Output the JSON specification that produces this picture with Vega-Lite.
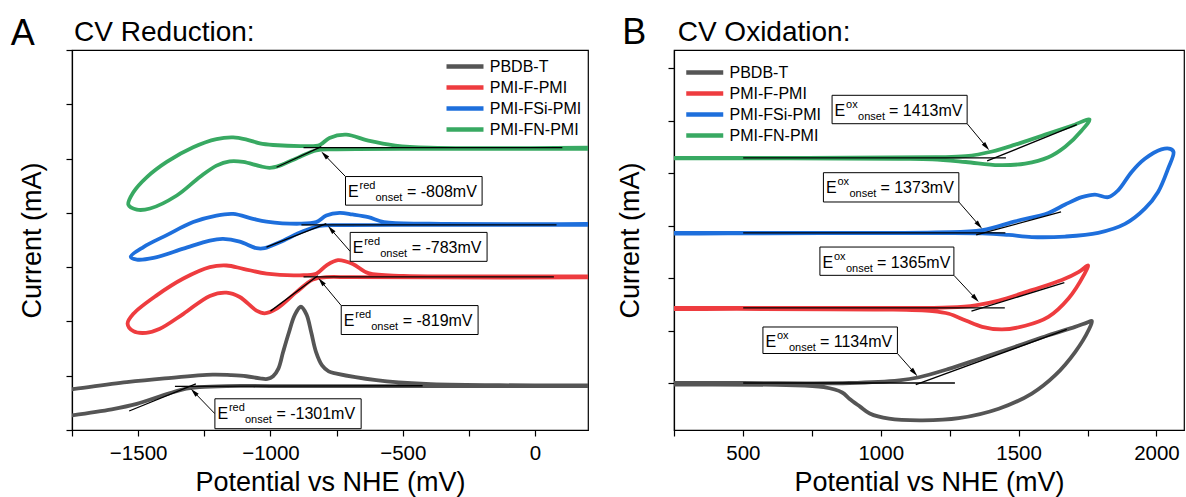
{
"$schema": "https://vega.github.io/schema/vega-lite/v6.json",
"background": "white",
"padding": {"left": 10, "top": 14, "right": 0, "bottom": 0},
"spacing": 86,
"bounds": "flush",
"resolve": {"scale": {"color": "independent"}, "legend": {"color": "independent"}},
"config": {
 "font": "Liberation Sans",
 "view": {"stroke": "black", "strokeWidth": 1.2},
 "axis": {"grid": false, "domainColor": "black", "domainWidth": 1.2, "tickColor": "black", "tickWidth": 1.2, "tickSize": 6, "labelFont": "Liberation Sans", "labelFontSize": 20.5, "labelColor": "black", "labelPadding": 7, "titleFont": "Liberation Sans", "titleFontSize": 27, "titleFontWeight": "normal", "titleColor": "black"},
 "text": {"font": "Liberation Sans", "color": "black"}
},
"datasets": {
 "curvesA": [
  {"s":"PBDB-T","i":1,"x":260,"y":0.81},{"s":"PBDB-T","i":2,"x":200,"y":0.81},{"s":"PBDB-T","i":3,"x":-200,"y":0.81},{"s":"PBDB-T","i":4,"x":-600,"y":0.81},{"s":"PBDB-T","i":5,"x":-1000,"y":0.81},{"s":"PBDB-T","i":6,"x":-1166,"y":0.81},{"s":"PBDB-T","i":7,"x":-1267,"y":0.79},{"s":"PBDB-T","i":8,"x":-1330,"y":0.75},{"s":"PBDB-T","i":9,"x":-1417,"y":0.62},{"s":"PBDB-T","i":10,"x":-1505,"y":0.48},{"s":"PBDB-T","i":11,"x":-1600,"y":0.38},{"s":"PBDB-T","i":12,"x":-1750,"y":0.27},{"s":"PBDB-T","i":13,"x":-1800,"y":0.24},{"s":"PBDB-T","i":14,"x":-1800,"y":0.72},{"s":"PBDB-T","i":15,"x":-1750,"y":0.75},{"s":"PBDB-T","i":16,"x":-1543,"y":0.88},{"s":"PBDB-T","i":17,"x":-1400,"y":0.95},{"s":"PBDB-T","i":18,"x":-1218,"y":1.02},{"s":"PBDB-T","i":19,"x":-1150,"y":1.01},{"s":"PBDB-T","i":20,"x":-1091,"y":0.99},{"s":"PBDB-T","i":21,"x":-1040,"y":0.95},{"s":"PBDB-T","i":22,"x":-1012,"y":0.94},{"s":"PBDB-T","i":23,"x":-990,"y":0.99},{"s":"PBDB-T","i":24,"x":-970,"y":1.13},{"s":"PBDB-T","i":25,"x":-952,"y":1.44},{"s":"PBDB-T","i":26,"x":-930,"y":1.80},{"s":"PBDB-T","i":27,"x":-908,"y":2.12},{"s":"PBDB-T","i":28,"x":-885,"y":2.27},{"s":"PBDB-T","i":29,"x":-864,"y":2.13},{"s":"PBDB-T","i":30,"x":-846,"y":1.80},{"s":"PBDB-T","i":31,"x":-828,"y":1.44},{"s":"PBDB-T","i":32,"x":-805,"y":1.19},{"s":"PBDB-T","i":33,"x":-780,"y":1.08},{"s":"PBDB-T","i":34,"x":-750,"y":1.04},{"s":"PBDB-T","i":35,"x":-600,"y":0.92},{"s":"PBDB-T","i":36,"x":-412,"y":0.85},{"s":"PBDB-T","i":37,"x":-136,"y":0.825},{"s":"PBDB-T","i":38,"x":200,"y":0.82},{"s":"PBDB-T","i":39,"x":260,"y":0.82},
  {"s":"PMI-F-PMI","i":1,"x":260,"y":2.81},{"s":"PMI-F-PMI","i":2,"x":200,"y":2.81},{"s":"PMI-F-PMI","i":3,"x":-400,"y":2.81},{"s":"PMI-F-PMI","i":4,"x":-700,"y":2.815},{"s":"PMI-F-PMI","i":5,"x":-789,"y":2.815},{"s":"PMI-F-PMI","i":6,"x":-840,"y":2.77},{"s":"PMI-F-PMI","i":7,"x":-902,"y":2.54},{"s":"PMI-F-PMI","i":8,"x":-978,"y":2.23},{"s":"PMI-F-PMI","i":9,"x":-1022,"y":2.15},{"s":"PMI-F-PMI","i":10,"x":-1053,"y":2.20},{"s":"PMI-F-PMI","i":11,"x":-1116,"y":2.45},{"s":"PMI-F-PMI","i":12,"x":-1166,"y":2.53},{"s":"PMI-F-PMI","i":13,"x":-1229,"y":2.47},{"s":"PMI-F-PMI","i":14,"x":-1329,"y":2.14},{"s":"PMI-F-PMI","i":15,"x":-1420,"y":1.86},{"s":"PMI-F-PMI","i":16,"x":-1470,"y":1.79},{"s":"PMI-F-PMI","i":17,"x":-1518,"y":1.82},{"s":"PMI-F-PMI","i":18,"x":-1540,"y":1.96},{"s":"PMI-F-PMI","i":19,"x":-1518,"y":2.14},{"s":"PMI-F-PMI","i":20,"x":-1430,"y":2.48},{"s":"PMI-F-PMI","i":21,"x":-1329,"y":2.79},{"s":"PMI-F-PMI","i":22,"x":-1229,"y":3.00},{"s":"PMI-F-PMI","i":23,"x":-1166,"y":3.03},{"s":"PMI-F-PMI","i":24,"x":-1103,"y":2.97},{"s":"PMI-F-PMI","i":25,"x":-1015,"y":2.88},{"s":"PMI-F-PMI","i":26,"x":-890,"y":2.85},{"s":"PMI-F-PMI","i":27,"x":-827,"y":2.88},{"s":"PMI-F-PMI","i":28,"x":-789,"y":3.03},{"s":"PMI-F-PMI","i":29,"x":-745,"y":3.13},{"s":"PMI-F-PMI","i":30,"x":-689,"y":3.06},{"s":"PMI-F-PMI","i":31,"x":-630,"y":2.89},{"s":"PMI-F-PMI","i":32,"x":-498,"y":2.84},{"s":"PMI-F-PMI","i":33,"x":-300,"y":2.83},{"s":"PMI-F-PMI","i":34,"x":200,"y":2.83},{"s":"PMI-F-PMI","i":35,"x":260,"y":2.83},
  {"s":"PMI-FSi-PMI","i":1,"x":260,"y":3.78},{"s":"PMI-FSi-PMI","i":2,"x":200,"y":3.78},{"s":"PMI-FSi-PMI","i":3,"x":-400,"y":3.78},{"s":"PMI-FSi-PMI","i":4,"x":-739,"y":3.775},{"s":"PMI-FSi-PMI","i":5,"x":-814,"y":3.76},{"s":"PMI-FSi-PMI","i":6,"x":-877,"y":3.66},{"s":"PMI-FSi-PMI","i":7,"x":-965,"y":3.46},{"s":"PMI-FSi-PMI","i":8,"x":-1022,"y":3.35},{"s":"PMI-FSi-PMI","i":9,"x":-1053,"y":3.35},{"s":"PMI-FSi-PMI","i":10,"x":-1116,"y":3.47},{"s":"PMI-FSi-PMI","i":11,"x":-1179,"y":3.52},{"s":"PMI-FSi-PMI","i":12,"x":-1229,"y":3.49},{"s":"PMI-FSi-PMI","i":13,"x":-1329,"y":3.34},{"s":"PMI-FSi-PMI","i":14,"x":-1442,"y":3.17},{"s":"PMI-FSi-PMI","i":15,"x":-1505,"y":3.14},{"s":"PMI-FSi-PMI","i":16,"x":-1528,"y":3.19},{"s":"PMI-FSi-PMI","i":17,"x":-1480,"y":3.37},{"s":"PMI-FSi-PMI","i":18,"x":-1392,"y":3.59},{"s":"PMI-FSi-PMI","i":19,"x":-1292,"y":3.83},{"s":"PMI-FSi-PMI","i":20,"x":-1204,"y":3.95},{"s":"PMI-FSi-PMI","i":21,"x":-1141,"y":3.98},{"s":"PMI-FSi-PMI","i":22,"x":-1066,"y":3.89},{"s":"PMI-FSi-PMI","i":23,"x":-1015,"y":3.84},{"s":"PMI-FSi-PMI","i":24,"x":-890,"y":3.80},{"s":"PMI-FSi-PMI","i":25,"x":-827,"y":3.83},{"s":"PMI-FSi-PMI","i":26,"x":-789,"y":3.95},{"s":"PMI-FSi-PMI","i":27,"x":-739,"y":4.00},{"s":"PMI-FSi-PMI","i":28,"x":-690,"y":3.97},{"s":"PMI-FSi-PMI","i":29,"x":-630,"y":3.92},{"s":"PMI-FSi-PMI","i":30,"x":-571,"y":3.83},{"s":"PMI-FSi-PMI","i":31,"x":-400,"y":3.80},{"s":"PMI-FSi-PMI","i":32,"x":200,"y":3.795},{"s":"PMI-FSi-PMI","i":33,"x":260,"y":3.795},
  {"s":"PMI-FN-PMI","i":1,"x":260,"y":5.18},{"s":"PMI-FN-PMI","i":2,"x":200,"y":5.18},{"s":"PMI-FN-PMI","i":3,"x":-400,"y":5.18},{"s":"PMI-FN-PMI","i":4,"x":-764,"y":5.17},{"s":"PMI-FN-PMI","i":5,"x":-827,"y":5.15},{"s":"PMI-FN-PMI","i":6,"x":-890,"y":5.03},{"s":"PMI-FN-PMI","i":7,"x":-965,"y":4.87},{"s":"PMI-FN-PMI","i":8,"x":-1003,"y":4.83},{"s":"PMI-FN-PMI","i":9,"x":-1040,"y":4.86},{"s":"PMI-FN-PMI","i":10,"x":-1103,"y":4.94},{"s":"PMI-FN-PMI","i":11,"x":-1154,"y":4.95},{"s":"PMI-FN-PMI","i":12,"x":-1204,"y":4.87},{"s":"PMI-FN-PMI","i":13,"x":-1267,"y":4.66},{"s":"PMI-FN-PMI","i":14,"x":-1354,"y":4.32},{"s":"PMI-FN-PMI","i":15,"x":-1455,"y":4.08},{"s":"PMI-FN-PMI","i":16,"x":-1505,"y":4.06},{"s":"PMI-FN-PMI","i":17,"x":-1537,"y":4.15},{"s":"PMI-FN-PMI","i":18,"x":-1518,"y":4.38},{"s":"PMI-FN-PMI","i":19,"x":-1467,"y":4.66},{"s":"PMI-FN-PMI","i":20,"x":-1392,"y":4.94},{"s":"PMI-FN-PMI","i":21,"x":-1292,"y":5.21},{"s":"PMI-FN-PMI","i":22,"x":-1204,"y":5.36},{"s":"PMI-FN-PMI","i":23,"x":-1141,"y":5.39},{"s":"PMI-FN-PMI","i":24,"x":-1090,"y":5.35},{"s":"PMI-FN-PMI","i":25,"x":-1040,"y":5.28},{"s":"PMI-FN-PMI","i":26,"x":-990,"y":5.25},{"s":"PMI-FN-PMI","i":27,"x":-864,"y":5.23},{"s":"PMI-FN-PMI","i":28,"x":-814,"y":5.25},{"s":"PMI-FN-PMI","i":29,"x":-777,"y":5.38},{"s":"PMI-FN-PMI","i":30,"x":-714,"y":5.44},{"s":"PMI-FN-PMI","i":31,"x":-630,"y":5.33},{"s":"PMI-FN-PMI","i":32,"x":-528,"y":5.24},{"s":"PMI-FN-PMI","i":33,"x":-400,"y":5.20},{"s":"PMI-FN-PMI","i":34,"x":200,"y":5.20},{"s":"PMI-FN-PMI","i":35,"x":260,"y":5.20}
 ],
 "curvesB": [
  {"s":"PBDB-T","i":1,"x":200,"y":0.0},{"s":"PBDB-T","i":2,"x":250,"y":0.0},{"s":"PBDB-T","i":3,"x":500,"y":0.0},{"s":"PBDB-T","i":4,"x":886,"y":0.0},{"s":"PBDB-T","i":5,"x":1067,"y":0.05},{"s":"PBDB-T","i":6,"x":1139,"y":0.11},{"s":"PBDB-T","i":7,"x":1247,"y":0.27},{"s":"PBDB-T","i":8,"x":1368,"y":0.48},{"s":"PBDB-T","i":9,"x":1488,"y":0.69},{"s":"PBDB-T","i":10,"x":1608,"y":0.91},{"s":"PBDB-T","i":11,"x":1705,"y":1.07},{"s":"PBDB-T","i":12,"x":1748,"y":1.15},{"s":"PBDB-T","i":13,"x":1766,"y":1.18},{"s":"PBDB-T","i":14,"x":1755,"y":1.02},{"s":"PBDB-T","i":15,"x":1705,"y":0.59},{"s":"PBDB-T","i":16,"x":1633,"y":0.15},{"s":"PBDB-T","i":17,"x":1548,"y":-0.20},{"s":"PBDB-T","i":18,"x":1428,"y":-0.49},{"s":"PBDB-T","i":19,"x":1283,"y":-0.67},{"s":"PBDB-T","i":20,"x":1151,"y":-0.71},{"s":"PBDB-T","i":21,"x":1030,"y":-0.68},{"s":"PBDB-T","i":22,"x":960,"y":-0.58},{"s":"PBDB-T","i":23,"x":925,"y":-0.45},{"s":"PBDB-T","i":24,"x":886,"y":-0.30},{"s":"PBDB-T","i":25,"x":860,"y":-0.18},{"s":"PBDB-T","i":26,"x":793,"y":-0.08},{"s":"PBDB-T","i":27,"x":657,"y":-0.04},{"s":"PBDB-T","i":28,"x":250,"y":-0.03},{"s":"PBDB-T","i":29,"x":200,"y":-0.03},
  {"s":"PMI-F-PMI","i":1,"x":200,"y":1.43},{"s":"PMI-F-PMI","i":2,"x":250,"y":1.43},{"s":"PMI-F-PMI","i":3,"x":1000,"y":1.43},{"s":"PMI-F-PMI","i":4,"x":1250,"y":1.44},{"s":"PMI-F-PMI","i":5,"x":1344,"y":1.48},{"s":"PMI-F-PMI","i":6,"x":1428,"y":1.57},{"s":"PMI-F-PMI","i":7,"x":1548,"y":1.77},{"s":"PMI-F-PMI","i":8,"x":1657,"y":1.96},{"s":"PMI-F-PMI","i":9,"x":1717,"y":2.11},{"s":"PMI-F-PMI","i":10,"x":1752,"y":2.24},{"s":"PMI-F-PMI","i":11,"x":1737,"y":2.06},{"s":"PMI-F-PMI","i":12,"x":1681,"y":1.61},{"s":"PMI-F-PMI","i":13,"x":1608,"y":1.26},{"s":"PMI-F-PMI","i":14,"x":1524,"y":1.09},{"s":"PMI-F-PMI","i":15,"x":1440,"y":1.02},{"s":"PMI-F-PMI","i":16,"x":1368,"y":1.07},{"s":"PMI-F-PMI","i":17,"x":1308,"y":1.19},{"s":"PMI-F-PMI","i":18,"x":1247,"y":1.32},{"s":"PMI-F-PMI","i":19,"x":1187,"y":1.37},{"s":"PMI-F-PMI","i":20,"x":1006,"y":1.40},{"s":"PMI-F-PMI","i":21,"x":250,"y":1.41},{"s":"PMI-F-PMI","i":22,"x":200,"y":1.41},
  {"s":"PMI-FSi-PMI","i":1,"x":200,"y":2.86},{"s":"PMI-FSi-PMI","i":2,"x":250,"y":2.86},{"s":"PMI-FSi-PMI","i":3,"x":1200,"y":2.87},{"s":"PMI-FSi-PMI","i":4,"x":1368,"y":2.91},{"s":"PMI-FSi-PMI","i":5,"x":1488,"y":3.08},{"s":"PMI-FSi-PMI","i":6,"x":1608,"y":3.24},{"s":"PMI-FSi-PMI","i":7,"x":1669,"y":3.40},{"s":"PMI-FSi-PMI","i":8,"x":1729,"y":3.54},{"s":"PMI-FSi-PMI","i":9,"x":1777,"y":3.59},{"s":"PMI-FSi-PMI","i":10,"x":1825,"y":3.54},{"s":"PMI-FSi-PMI","i":11,"x":1861,"y":3.67},{"s":"PMI-FSi-PMI","i":12,"x":1910,"y":4.02},{"s":"PMI-FSi-PMI","i":13,"x":1958,"y":4.27},{"s":"PMI-FSi-PMI","i":14,"x":2018,"y":4.45},{"s":"PMI-FSi-PMI","i":15,"x":2050,"y":4.46},{"s":"PMI-FSi-PMI","i":16,"x":2062,"y":4.40},{"s":"PMI-FSi-PMI","i":17,"x":2042,"y":4.08},{"s":"PMI-FSi-PMI","i":18,"x":2006,"y":3.64},{"s":"PMI-FSi-PMI","i":19,"x":1958,"y":3.32},{"s":"PMI-FSi-PMI","i":20,"x":1886,"y":3.03},{"s":"PMI-FSi-PMI","i":21,"x":1789,"y":2.86},{"s":"PMI-FSi-PMI","i":22,"x":1669,"y":2.79},{"s":"PMI-FSi-PMI","i":23,"x":1548,"y":2.78},{"s":"PMI-FSi-PMI","i":24,"x":1464,"y":2.82},{"s":"PMI-FSi-PMI","i":25,"x":1368,"y":2.85},{"s":"PMI-FSi-PMI","i":26,"x":250,"y":2.845},{"s":"PMI-FSi-PMI","i":27,"x":200,"y":2.845},
  {"s":"PMI-FN-PMI","i":1,"x":200,"y":4.29},{"s":"PMI-FN-PMI","i":2,"x":250,"y":4.29},{"s":"PMI-FN-PMI","i":3,"x":1200,"y":4.30},{"s":"PMI-FN-PMI","i":4,"x":1308,"y":4.32},{"s":"PMI-FN-PMI","i":5,"x":1404,"y":4.41},{"s":"PMI-FN-PMI","i":6,"x":1488,"y":4.54},{"s":"PMI-FN-PMI","i":7,"x":1608,"y":4.75},{"s":"PMI-FN-PMI","i":8,"x":1693,"y":4.90},{"s":"PMI-FN-PMI","i":9,"x":1757,"y":5.02},{"s":"PMI-FN-PMI","i":10,"x":1729,"y":4.81},{"s":"PMI-FN-PMI","i":11,"x":1669,"y":4.50},{"s":"PMI-FN-PMI","i":12,"x":1608,"y":4.30},{"s":"PMI-FN-PMI","i":13,"x":1524,"y":4.18},{"s":"PMI-FN-PMI","i":14,"x":1428,"y":4.15},{"s":"PMI-FN-PMI","i":15,"x":1308,"y":4.21},{"s":"PMI-FN-PMI","i":16,"x":1187,"y":4.26},{"s":"PMI-FN-PMI","i":17,"x":1067,"y":4.27},{"s":"PMI-FN-PMI","i":18,"x":250,"y":4.28},{"s":"PMI-FN-PMI","i":19,"x":200,"y":4.28}
 ],
 "tanA": [
  {"x":-1534,"y":0.35,"x2":-1282,"y2":0.85},{"x":-1361,"y":0.805,"x2":-425,"y2":0.815},
  {"x":-1000,"y":2.19,"x2":-821,"y2":2.84},{"x":-875,"y":2.82,"x2":71,"y2":2.82},
  {"x":-1015,"y":3.37,"x2":-789,"y2":3.80},{"x":-883,"y":3.78,"x2":81,"y2":3.78},
  {"x":-977,"y":4.84,"x2":-808,"y2":5.22},{"x":-875,"y":5.20,"x2":103,"y2":5.20}
 ],
 "tanB": [
  {"x":1127,"y":-0.03,"x2":1675,"y2":1.02},{"x":501,"y":0.0,"x2":1269,"y2":0.0},
  {"x":1329,"y":1.37,"x2":1666,"y2":1.91},{"x":501,"y":1.43,"x2":1450,"y2":1.43},
  {"x":1346,"y":2.82,"x2":1654,"y2":3.26},{"x":501,"y":2.86,"x2":1452,"y2":2.86},
  {"x":1386,"y":4.23,"x2":1711,"y2":4.92},{"x":501,"y":4.29,"x2":1454,"y2":4.29}
 ],
 "arrowA": [
  {"x":-716.4,"y":4.669,"x2":-796.2,"y2":5.070,"ang":315.9},
  {"x":-698.7,"y":3.29,"x2":-771.8,"y2":3.698,"ang":318.7},
  {"x":-732.6,"y":2.292,"x2":-808.2,"y2":2.736,"ang":320.3},
  {"x":-1210,"y":0.30,"x2":-1289.2,"y2":0.70,"ang":316}
 ],
 "arrowB": [
  {"x":1313.3,"y":4.939,"x2":1383.1,"y2":4.498,"ang":140.1},
  {"x":1283.3,"y":3.448,"x2":1356.8,"y2":3.005,"ang":138.9},
  {"x":1265.3,"y":2.051,"x2":1344.5,"y2":1.606,"ang":136.9},
  {"x":1060.4,"y":0.562,"x2":1121.9,"y2":0.197,"ang":138.4}
 ],
 "boxA": [
  {"x":-716.4,"x2":-200.2,"y":4.669,"y2":4.142,"sup":"red","val":"= -808mV"},
  {"x":-698.7,"x2":-181.4,"y":3.640,"y2":3.107,"sup":"red","val":"= -783mV"},
  {"x":-732.6,"x2":-215.4,"y":2.292,"y2":1.759,"sup":"red","val":"= -819mV"},
  {"x":-1210,"x2":-657.3,"y":0.575,"y2":0.024,"sup":"red","val":"= -1301mV"}
 ],
 "boxB": [
  {"x":823.4,"x2":1313.3,"y":5.480,"y2":4.939,"sup":"ox","val":"= 1413mV"},
  {"x":792,"x2":1283.3,"y":4.006,"y2":3.448,"sup":"ox","val":"= 1373mV"},
  {"x":779.3,"x2":1265.3,"y":2.590,"y2":2.051,"sup":"ox","val":"= 1365mV"},
  {"x":572.6,"x2":1060.4,"y":1.067,"y2":0.562,"sup":"ox","val":"= 1134mV"}
 ]
},
"hconcat": [
 {
  "width": 516, "height": 380,
  "encoding": {
   "x": {"field": "x", "type": "quantitative", "scale": {"domain": [-1750, 200], "nice": false, "zero": false},
         "axis": {"values": [-1750,-1500,-1250,-1000,-750,-500,-250,0], "format": "d", "labelExpr": "datum.value % 500 === 0 ? datum.label : ''", "labelFlush": false, "labelOverlap": false, "titlePadding": 6},
         "title": "Potential vs NHE (mV)"},
   "y": {"field": "y", "type": "quantitative", "scale": {"domain": [0, 7], "nice": false, "zero": false},
         "axis": {"values": [0,1,2,3,4,5,6,7], "labels": false, "titlePadding": 19},
         "title": "Current (mA)"}
  },
  "layer": [
   {"data": {"name": "curvesA"},
    "mark": {"type": "line", "clip": true, "interpolate": "catmull-rom", "strokeWidth": 3.8, "strokeJoin": "round", "strokeCap": "round"},
    "encoding": {
     "color": {"field": "s", "type": "nominal", "scale": {"domain": ["PBDB-T","PMI-F-PMI","PMI-FSi-PMI","PMI-FN-PMI"], "range": ["#555555","#EE3C3F","#1E6FDC","#38A962"]},
       "legend": {"title": null, "orient": "none", "legendX": 381.5, "legendY": 5, "symbolType": "M-2,0L2,0", "symbolStrokeWidth": 4.5, "symbolSize": 342, "labelFontSize": 16, "labelFont": "Liberation Sans", "labelColor": "black", "labelOffset": 13.25, "rowPadding": -2, "padding": 0}},
     "order": {"field": "i", "type": "quantitative"}
    }},
   {"data": {"name": "tanA"}, "mark": {"type": "rule", "color": "black", "strokeWidth": 1.3, "clip": true},
    "encoding": {"x2": {"field": "x2"}, "y2": {"field": "y2"}}},
   {"data": {"name": "arrowA"}, "mark": {"type": "rule", "color": "black", "strokeWidth": 1},
    "encoding": {"x2": {"field": "x2"}, "y2": {"field": "y2"}}},
   {"data": {"name": "arrowA"}, "mark": {"type": "point", "shape": "M0,-1L0.5,1L-0.5,1Z", "filled": true, "color": "black", "opacity": 1, "size": 81},
    "encoding": {"x": {"field": "x2", "type": "quantitative"}, "y": {"field": "y2", "type": "quantitative"}, "angle": {"field": "ang", "type": "quantitative", "scale": null}}},
   {"data": {"name": "boxA"}, "mark": {"type": "rect", "fill": "white", "stroke": "black", "strokeWidth": 1},
    "encoding": {"x2": {"field": "x2"}, "y2": {"field": "y2"}}},
   {"data": {"name": "boxA"}, "mark": {"type": "text", "text": "E", "fontSize": 16, "align": "left", "baseline": "alphabetic", "dx": 2.5, "dy": 20.5}},
   {"data": {"name": "boxA"}, "mark": {"type": "text", "fontSize": 11, "align": "left", "baseline": "alphabetic", "dx": 14, "dy": 12.5},
    "encoding": {"text": {"field": "sup"}}},
   {"data": {"name": "boxA"}, "mark": {"type": "text", "text": "onset", "fontSize": 11, "align": "left", "baseline": "alphabetic", "dx": 30, "dy": 24.5}},
   {"data": {"name": "boxA"}, "mark": {"type": "text", "fontSize": 16, "align": "left", "baseline": "alphabetic", "dx": 61.5, "dy": 20.5},
    "encoding": {"text": {"field": "val"}}},
   {"data": {"values": [{"t": "A", "x": -1936, "y": 7.083}]}, "mark": {"type": "text", "fontSize": 36, "align": "center", "baseline": "alphabetic"},
    "encoding": {"text": {"field": "t"}}},
   {"data": {"values": [{"t": "CV Reduction:", "x": -1742, "y": 7.175}]}, "mark": {"type": "text", "fontSize": 28, "align": "left", "baseline": "alphabetic"},
    "encoding": {"text": {"field": "t"}}}
  ]
 },
 {
  "width": 510, "height": 380,
  "encoding": {
   "x": {"field": "x", "type": "quantitative", "scale": {"domain": [250, 2100], "nice": false, "zero": false},
         "axis": {"values": [250,500,750,1000,1250,1500,1750,2000], "format": "d", "labelExpr": "datum.value % 500 === 0 ? datum.label : ''", "labelFlush": false, "labelOverlap": false, "titlePadding": 6},
         "title": "Potential vs NHE (mV)"},
   "y": {"field": "y", "type": "quantitative", "scale": {"domain": [-0.895, 6.343], "nice": false, "zero": false},
         "axis": {"values": [0,1,2,3,4,5,6], "labels": false, "titlePadding": 23},
         "title": "Current (mA)"}
  },
  "layer": [
   {"data": {"name": "curvesB"},
    "mark": {"type": "line", "clip": true, "interpolate": "catmull-rom", "strokeWidth": 3.8, "strokeJoin": "round", "strokeCap": "round"},
    "encoding": {
     "color": {"field": "s", "type": "nominal", "scale": {"domain": ["PBDB-T","PMI-F-PMI","PMI-FSi-PMI","PMI-FN-PMI"], "range": ["#555555","#EE3C3F","#1E6FDC","#38A962"]},
       "legend": {"title": null, "orient": "none", "legendX": 19.25, "legendY": 11, "symbolType": "M-2,0L2,0", "symbolStrokeWidth": 4.5, "symbolSize": 342, "labelFontSize": 16, "labelFont": "Liberation Sans", "labelColor": "black", "labelOffset": 13.25, "rowPadding": -3, "padding": 0}},
     "order": {"field": "i", "type": "quantitative"}
    }},
   {"data": {"name": "tanB"}, "mark": {"type": "rule", "color": "black", "strokeWidth": 1.3, "clip": true},
    "encoding": {"x2": {"field": "x2"}, "y2": {"field": "y2"}}},
   {"data": {"name": "arrowB"}, "mark": {"type": "rule", "color": "black", "strokeWidth": 1},
    "encoding": {"x2": {"field": "x2"}, "y2": {"field": "y2"}}},
   {"data": {"name": "arrowB"}, "mark": {"type": "point", "shape": "M0,-1L0.5,1L-0.5,1Z", "filled": true, "color": "black", "opacity": 1, "size": 81},
    "encoding": {"x": {"field": "x2", "type": "quantitative"}, "y": {"field": "y2", "type": "quantitative"}, "angle": {"field": "ang", "type": "quantitative", "scale": null}}},
   {"data": {"name": "boxB"}, "mark": {"type": "rect", "fill": "white", "stroke": "black", "strokeWidth": 1},
    "encoding": {"x2": {"field": "x2"}, "y2": {"field": "y2"}}},
   {"data": {"name": "boxB"}, "mark": {"type": "text", "text": "E", "fontSize": 16, "align": "left", "baseline": "alphabetic", "dx": 2.5, "dy": 20.5}},
   {"data": {"name": "boxB"}, "mark": {"type": "text", "fontSize": 11, "align": "left", "baseline": "alphabetic", "dx": 14, "dy": 12.5},
    "encoding": {"text": {"field": "sup"}}},
   {"data": {"name": "boxB"}, "mark": {"type": "text", "text": "onset", "fontSize": 11, "align": "left", "baseline": "alphabetic", "dx": 26, "dy": 24.5}},
   {"data": {"name": "boxB"}, "mark": {"type": "text", "fontSize": 16, "align": "left", "baseline": "alphabetic", "dx": 57, "dy": 20.5},
    "encoding": {"text": {"field": "val"}}},
   {"data": {"values": [{"t": "B", "x": 105.5, "y": 6.45}]}, "mark": {"type": "text", "fontSize": 36, "align": "center", "baseline": "alphabetic"},
    "encoding": {"text": {"field": "t"}}},
   {"data": {"values": [{"t": "CV Oxidation:", "x": 263.4, "y": 6.509}]}, "mark": {"type": "text", "fontSize": 28, "align": "left", "baseline": "alphabetic"},
    "encoding": {"text": {"field": "t"}}}
  ]
 }
]
}
